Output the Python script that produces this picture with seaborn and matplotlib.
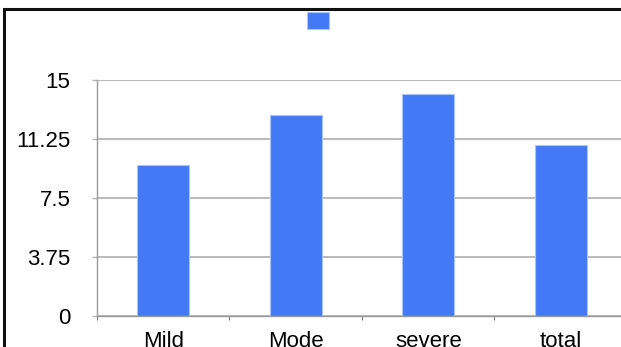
import matplotlib
matplotlib.use('Agg')
import matplotlib.pyplot as plt
import seaborn as sns
from matplotlib.patches import Rectangle

# data
categories = ['Mild', 'Mode', 'severe', 'total']
values = [9.6, 12.78, 14.1, 10.87]
y_ticks = [0, 3.75, 7.5, 11.25, 15]
y_tick_labels = ['0', '3.75', '7.5', '11.25', '15']

sns.set_theme(style='white')
plt.rcParams['font.family'] = ['Liberation Sans', 'DejaVu Sans']

fig = plt.figure(figsize=(6.21, 3.47), dpi=100)
ax = fig.add_axes([97 / 621, 1 - 316 / 347, 1 - 97 / 621, (316 - 80) / 347])

bar_color = '#4479f5'
sns.barplot(x=categories, y=values, color=bar_color, width=0.39,
            saturation=1, edgecolor='#a9c4fb', linewidth=0.8, ax=ax)

ax.set_ylim(0, 15)
ax.set_xlim(-0.5, 3.455)
ax.set_yticks(y_ticks)
ax.set_yticklabels(y_tick_labels)
ax.set_xlabel('')
ax.set_ylabel('')

# gridlines behind the bars
ax.set_axisbelow(True)
ax.yaxis.grid(True, color='#b4b4b4', linewidth=1.3)
ax.xaxis.grid(False)

for side in ['top', 'right']:
    ax.spines[side].set_visible(False)
for side in ['left', 'bottom']:
    ax.spines[side].set_color('#9a9a9a')
    ax.spines[side].set_linewidth(1.0)

# tick marks sit on category boundaries, labels at centres
ax.set_xticks([-0.5, 0.5, 1.5, 2.5], minor=True)
ax.tick_params(axis='x', which='major', length=0, pad=11, labelsize=16, labelcolor='black')
ax.tick_params(axis='x', which='minor', bottom=True, length=3, width=0.8, color='#808080')
ax.tick_params(axis='y', which='major', left=True, length=3.6, width=1.0, color='#b4b4b4',
               pad=15.5, labelsize=16, labelcolor='black')

# legend with an empty label, just the swatch
fig.legend(handles=[ax.patches[0]], labels=[''], loc='center',
           bbox_to_anchor=(318 / 621, 1 - 22 / 347), frameon=False,
           handlelength=1.15, handleheight=0.95, handletextpad=0, fontsize=14,
           borderpad=0)

# dark frame around the chart (left and top edges visible)
fig.patches.append(Rectangle((4 / 621, -0.05), 1.1, 1 - 9 / 347 + 0.05,
                             transform=fig.transFigure, fill=False,
                             edgecolor='#111111', linewidth=2.2))

fig.savefig('out.png', dpi=100)
